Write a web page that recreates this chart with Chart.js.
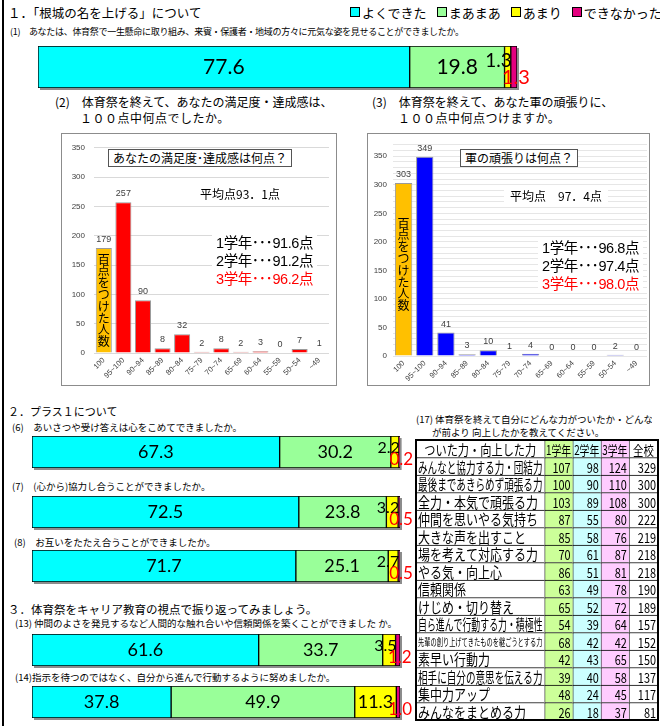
<!DOCTYPE html>
<html>
<head>
<meta charset="utf-8">
<script src="https://cdn.jsdelivr.net/npm/chart.js@4.4.1/dist/chart.umd.min.js"></script>
<style>
body { margin: 0; width: 660px; height: 726px; position: relative; overflow: hidden; background: #fff;
       font-family: "Noto Sans CJK JP", sans-serif; color: #000; }
.t { position: absolute; white-space: nowrap; line-height: 1; }
.q { font-size: 9.5px; }
.h { font-size: 11.5px; }
.box { position: absolute; border: 1px solid #8c8c8c; box-sizing: border-box; background: #fff; }
.box canvas, .c { position: absolute; display: block; }
.ann { position: absolute; white-space: nowrap; line-height: 1; background: #fff; }
.grades { font-size: 14.5px; line-height: 18px; padding: 0 4px; letter-spacing: -0.4px;
          font-family: 'Liberation Sans', 'Noto Sans CJK JP', sans-serif; }
#legend { position: absolute; left: 350px; top: 6px; display: flex; font-size: 13px; line-height: 1; white-space: nowrap; }
#legend span.sq { display: inline-block; width: 8px; height: 8px; border: 1px solid #000; margin: 0 2px 0 0; vertical-align: 1px; }
#legend div { margin-right: 10px; }
</style>
</head>
<body>
<div style="position:absolute;left:2px;top:0;width:2px;height:726px;background:#000"></div>

<div class="t" style="left:8px;top:7px;font-size:12.5px">１．「根城の名を上げる」について</div>
<div id="legend"></div>
<div class="t q" style="left:10px;top:27px;font-size:9px;letter-spacing:-0.3px">(1)　あなたは、体育祭で一生懸命に取り組み、来賓・保護者・地域の方々に元気な姿を見せることができましたか。</div>
<canvas id="bar1" class="c" width="501" height="45" style="left:38px;top:46px"></canvas>

<div class="t" style="left:55px;top:96px;font-size:12px">(2)　体育祭を終えて、あなたの満足度・達成感は、</div>
<div class="t" style="left:80px;top:112px;font-size:12px;letter-spacing:0.5px">１００点中何点でしたか。</div>
<div class="t" style="left:372px;top:96px;font-size:12px">(3)　体育祭を終えて、あなた軍の頑張りに、</div>
<div class="t" style="left:398px;top:112px;font-size:12px;letter-spacing:0.5px">１００点中何点つけますか。</div>

<div class="box" style="left:61px;top:133px;width:276px;height:253px">
  <canvas id="sat" width="274" height="251" style="left:0;top:0"></canvas>
  <div class="ann" style="left:46px;top:15px;border:1px solid #555;padding:2px 4px;font-size:12px">あなたの満足度･達成感は何点？</div>
  <div class="ann" style="left:132px;top:54px;font-size:12px;padding:0 6px">平均点93．1点</div>
  <div class="ann grades" style="left:150px;top:100px">
    <div>1学年･･･91.6点</div><div>2学年･･･91.2点</div><div style="color:#ff0000">3学年･･･96.2点</div>
  </div>
</div>

<div class="box" style="left:367px;top:133px;width:283px;height:253px">
  <canvas id="team" width="281" height="251" style="left:0;top:0"></canvas>
  <div class="ann" style="left:92px;top:15px;border:1px solid #555;padding:2px 4px;font-size:12px">軍の頑張りは何点？</div>
  <div class="ann" style="left:136px;top:56px;font-size:12px;padding:0 6px">平均点　97．4点</div>
  <div class="ann grades" style="left:170px;top:105px">
    <div>1学年･･･96.8点</div><div>2学年･･･97.4点</div><div style="color:#ff0000">3学年･･･98.0点</div>
  </div>
</div>

<div class="t h" style="left:8px;top:406px;font-size:11px">２．プラス１について</div>
<div class="t q" style="left:12px;top:423px">(6)　あいさつや受け答えは心をこめてできましたか。</div>
<canvas id="bar6" class="c" width="392" height="35" style="left:32px;top:436px"></canvas>
<div class="t q" style="left:12px;top:482px">(7)　(心から)協力し合うことができましたか。</div>
<canvas id="bar7" class="c" width="392" height="35" style="left:32px;top:496px"></canvas>
<div class="t q" style="left:14px;top:538px">(8)　お互いをたたえ合うことができましたか。</div>
<canvas id="bar8" class="c" width="392" height="35" style="left:32px;top:550px"></canvas>

<div class="t h" style="left:8px;top:604px">３．体育祭をキャリア教育の視点で振り返ってみましょう。</div>
<div class="t q" style="left:15px;top:619px">(13) 仲間のよさを発見するなど人間的な触れ合いや信頼関係を築くことができました か。</div>
<canvas id="bar13" class="c" width="392" height="35" style="left:32px;top:634px"></canvas>
<div class="t q" style="left:15px;top:673px">(14)指示を待つのではなく、自分から進んで行動するように努めましたか。</div>
<canvas id="bar14" class="c" width="392" height="35" style="left:32px;top:686px"></canvas>

<div class="t q" style="left:416px;top:415px;width:236px;overflow:hidden">(17) 体育祭を終えて自分にどんな力がついたか・どんな力</div>
<div class="t q" style="left:432px;top:428px">が前より 向上したかを教えてください。</div>
<canvas id="skills" class="c" width="246" height="284" style="left:414px;top:438px"></canvas>

<script>
// 回答の区分
const answerLabels = ['よくできた', 'まあまあ', 'あまり', 'できなかった'];
const answerColors = ['#00FFFF', '#99FF99', '#FFFF00', '#E4007F'];

// 各設問の割合 (%)
const q1Values = [77.6, 19.8, 1.3, 1.3];
const q6Values = [67.3, 30.2, 2.2, 0.2];
const q7Values = [72.5, 23.8, 3.2, 0.5];
const q8Values = [71.7, 25.1, 2.7, 0.5];
const q13Values = [61.6, 33.7, 3.5, 1.2];
const q14Values = [37.8, 49.9, 11.3, 1.0];

// 点数分布
const scoreLabels = ['100', '95~100', '90~94', '85~89', '80~84', '75~79', '70~74', '65~69', '60~64', '55~59', '50~54', '~49'];
const satisfactionCounts = [179, 257, 90, 8, 32, 2, 8, 2, 3, 0, 7, 1];
const teamCounts = [303, 349, 41, 3, 10, 1, 4, 0, 0, 0, 2, 0];

// (17) ついた力
const skillHeader = ['ついた力・向上した力', '1学年', '2学年', '3学年', '全校'];
const skillNames = ['みんなと協力する力・団結力', '最後まであきらめず頑張る力', '全力・本気で頑張る力', '仲間を思いやる気持ち',
  '大きな声を出すこと', '場を考えて対応する力', 'やる気・向上心', '信頼関係', 'けじめ・切り替え', '自ら進んで行動する力・積極性',
  '先輩の創り上げてきたものを継ごうとする力', '素早い行動力', '相手に自分の意思を伝える力', '集中力アップ', 'みんなをまとめる力'];
const grade1 = [107, 100, 103, 87, 85, 70, 86, 63, 65, 54, 68, 42, 39, 48, 26];
const grade2 = [98, 90, 89, 55, 58, 61, 51, 49, 52, 39, 42, 43, 40, 24, 18];
const grade3 = [124, 110, 108, 80, 76, 87, 81, 78, 72, 64, 42, 65, 58, 45, 37];
const schoolTotal = [329, 300, 300, 222, 219, 218, 218, 190, 189, 157, 152, 150, 137, 117, 81];

// 凡例
const legendEl = document.getElementById('legend');
answerLabels.forEach((l, i) => {
  const d = document.createElement('div');
  d.innerHTML = '<span class="sq" style="background:' + answerColors[i] + '"></span>' + l;
  legendEl.appendChild(d);
});

// 帯グラフ
function stackedBar(id, values, size) {
  const labels = {
    id: 'segLabels',
    beforeDatasetsDraw(chart) {
      const ctx = chart.ctx, a = chart.chartArea;
      const end = chart.scales.x.getPixelForValue(values.reduce((s, v) => s + v, 0));
      ctx.save();
      ctx.fillStyle = '#8c8c8c';
      ctx.fillRect(a.left + 2, a.top + 2, end - a.left, a.bottom - a.top);
      ctx.restore();
    },
    afterDatasetsDraw(chart) {
      const ctx = chart.ctx;
      ctx.save();
      chart.data.datasets.forEach((ds, i) => {
        const p = chart.getDatasetMeta(i).data[0].getProps(['x', 'y', 'base', 'height'], true);
        const left = Math.min(p.x, p.base), right = Math.max(p.x, p.base);
        const top = p.y - p.height / 2, h = p.height, w = right - left;
        const txt = ds.data[0].toFixed(1);
        ctx.textBaseline = 'middle';
        if (w > 30) {
          ctx.font = size + 'px Lato, sans-serif';
          ctx.fillStyle = '#000';
          ctx.textAlign = 'center';
          ctx.fillText(txt, (left + right) / 2, p.y);
        } else if (i === 2) {
          ctx.font = (size - 2) + 'px Lato, sans-serif';
          ctx.fillStyle = '#000';
          ctx.textAlign = 'right';
          ctx.fillText(txt, right + 1, top + h * 0.36);
        } else {
          ctx.font = (size - 1) + 'px Lato, sans-serif';
          ctx.fillStyle = '#FF0000';
          ctx.textAlign = 'center';
          ctx.fillText(txt, (left + right) / 2 + 2, top + h * 0.74);
        }
      });
      ctx.restore();
    }
  };
  return new Chart(document.getElementById(id), {
    type: 'bar',
    data: {
      labels: [''],
      datasets: values.map((v, i) => ({
        label: answerLabels[i],
        data: [v],
        backgroundColor: answerColors[i],
        borderColor: '#000',
        borderWidth: 1,
        borderSkipped: false,
        barPercentage: 1,
        categoryPercentage: 1
      }))
    },
    options: {
      indexAxis: 'y',
      responsive: false,
      animation: false,
      layout: { padding: { right: id === 'bar1' ? 22 : 24, bottom: 3 } },
      plugins: { legend: { display: false }, tooltip: { enabled: false } },
      scales: {
        x: { stacked: true, min: 0, max: 100, display: false },
        y: { stacked: true, display: false }
      }
    },
    plugins: [labels]
  });
}

stackedBar('bar1', q1Values, 21);
stackedBar('bar6', q6Values, 18);
stackedBar('bar7', q7Values, 18);
stackedBar('bar8', q8Values, 18);
stackedBar('bar13', q13Values, 18);
stackedBar('bar14', q14Values, 18);

// 点数分布の棒グラフ
function scoreChart(id, counts, color, cfg) {
  const extras = {
    id: 'scoreExtras',
    afterDatasetsDraw(chart) {
      const ctx = chart.ctx;
      const meta = chart.getDatasetMeta(0);
      ctx.save();
      ctx.font = '9px "Liberation Sans", sans-serif';
      ctx.fillStyle = '#404040';
      ctx.textAlign = 'center';
      ctx.textBaseline = 'bottom';
      meta.data.forEach((b, i) => {
        ctx.fillText(String(counts[i]), b.x, Math.min(b.y, b.base) - 4);
      });
      // 百点をつけた人数
      const b0 = meta.data[0];
      const chars = '百点をつけた人数'.split('');
      const mid = (b0.y + b0.base) / 2 + cfg.textShift;
      ctx.font = '12px "Noto Sans CJK JP", sans-serif';
      ctx.fillStyle = '#000';
      ctx.textBaseline = 'middle';
      chars.forEach((ch, k) => {
        ctx.fillText(ch, b0.x, mid + (k - (chars.length - 1) / 2) * 11.8);
      });
      ctx.restore();
    }
  };
  return new Chart(document.getElementById(id), {
    type: 'bar',
    data: {
      labels: scoreLabels,
      datasets: [{
        data: counts,
        backgroundColor: counts.map((c, i) => i === 0 ? '#FFC000' : color),
        borderColor: '#9a9a9a',
        borderWidth: 1,
        barPercentage: 0.82,
        categoryPercentage: 1
      }]
    },
    options: {
      responsive: false,
      animation: false,
      layout: { padding: { top: cfg.padTop, right: cfg.padRight, left: 0, bottom: 0 } },
      plugins: { legend: { display: false }, tooltip: { enabled: false } },
      scales: {
        x: {
          grid: { display: false, drawTicks: false },
          border: { display: false },
          ticks: { autoSkip: false, minRotation: 45, maxRotation: 45, padding: 3,
                   font: { size: 7.5, family: '"Liberation Sans", sans-serif' }, color: '#404040' },
          afterFit: s => { s.height = cfg.xHeight; }
        },
        y: {
          min: 0, max: cfg.max,
          grid: { color: cfg.gridColor, drawTicks: false },
          border: { display: false },
          ticks: { stepSize: cfg.step, padding: cfg.tickPad, autoSkip: false,
                   font: { size: 8, family: '"Liberation Sans", sans-serif' }, color: '#404040',
                   callback: v => (v % 50 === 0 ? v : '') },
          afterFit: s => { s.width = cfg.yWidth; }
        }
      }
    },
    plugins: [extras]
  });
}

scoreChart('sat', satisfactionCounts, '#FF0000',
  { max: 350, step: 50, padTop: 12, padRight: 7, xHeight: 32, yWidth: 32, tickPad: 9, gridColor: '#d9d9d9', textShift: 0 });
scoreChart('team', teamCounts, '#0000FF',
  { max: 370, step: 10, padTop: 8, padRight: 2, xHeight: 29, yWidth: 25, tickPad: 6, gridColor: '#e6e6e6', textShift: -5 });

// (17) 表
const colWidths = [128, 28, 28, 28, 29];
const colColors = ['#FFFFFF', '#CCFF99', '#CCFFFF', '#FFCCFF', '#FFFFFF'];
const tableColumns = [skillNames, grade1, grade2, grade3, schoolTotal];
const rowLabels = [skillHeader[0]].concat(skillNames);
const colStart = colWidths.map((w, i) => colWidths.slice(0, i).reduce((s, v) => s + v, 0));

function drawCondensed(ctx, text, x, y, align, maxW, sx) {
  ctx.save();
  ctx.translate(x, y);
  ctx.scale(sx, 1);
  ctx.textAlign = align;
  ctx.fillText(text, 0, 0, maxW / sx);
  ctx.restore();
}

const tableText = {
  id: 'tableText',
  afterDatasetsDraw(chart) {
    const ctx = chart.ctx;
    ctx.save();
    ctx.fillStyle = '#000';
    ctx.textBaseline = 'middle';
    chart.data.datasets.forEach((ds, c) => {
      chart.getDatasetMeta(c).data.forEach((el, r) => {
        const p = el.getProps(['x', 'y', 'base'], true);
        const left = Math.min(p.x, p.base), right = Math.max(p.x, p.base), w = right - left;
        const y = p.y + 1;
        if (r === 0) {
          ctx.font = (c === 0 ? 14 : 13) + 'px "Noto Sans CJK JP", sans-serif';
          drawCondensed(ctx, skillHeader[c], (left + right) / 2, y, 'center', w - 3, 0.8);
        } else if (c === 0) {
          const name = tableColumns[0][r - 1];
          ctx.font = (name.length > 16 ? 10 : 15) + 'px "Noto Sans CJK JP", sans-serif';
          drawCondensed(ctx, name, left + 2, y, 'left', w - 4, 0.8);
        } else {
          ctx.font = '14px "Noto Sans CJK JP", sans-serif';
          drawCondensed(ctx, String(tableColumns[c][r - 1]), right - 2, y, 'right', w - 3, 0.78);
        }
      });
    });
    const a = chart.chartArea;
    ctx.lineWidth = 2;
    ctx.strokeStyle = '#000';
    ctx.strokeRect(a.left, a.top, a.right - a.left, a.bottom - a.top);
    ctx.restore();
  }
};

new Chart(document.getElementById('skills'), {
  type: 'bar',
  data: {
    labels: rowLabels,
    datasets: colWidths.map((w, c) => ({
      data: rowLabels.map(() => [colStart[c], colStart[c] + w]),
      backgroundColor: colColors[c],
      borderColor: '#000',
      borderWidth: { top: 1, left: 1, right: 0, bottom: 0 },
      borderSkipped: false,
      barPercentage: 1,
      categoryPercentage: 1,
      grouped: false
    }))
  },
  options: {
    indexAxis: 'y',
    responsive: false,
    animation: false,
    layout: { padding: 2 },
    plugins: { legend: { display: false }, tooltip: { enabled: false } },
    scales: {
      x: { min: 0, max: 241, display: false },
      y: { display: false }
    }
  },
  plugins: [tableText]
});
</script>
</body>
</html>
